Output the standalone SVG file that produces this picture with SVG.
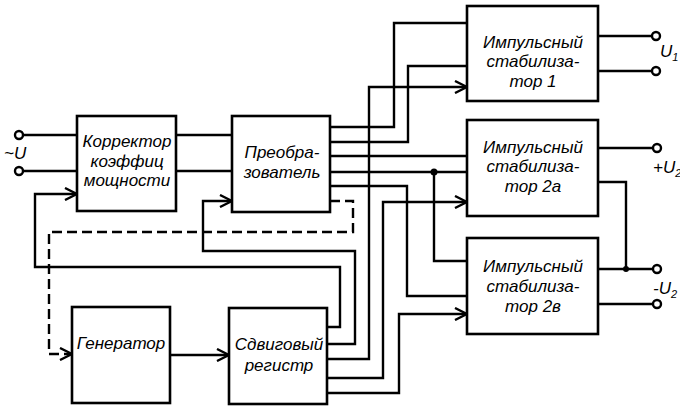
<svg xmlns="http://www.w3.org/2000/svg" width="680" height="407" viewBox="0 0 680 407">
<style>
.box{fill:#fff;stroke:#000;stroke-width:2.6}
.w{fill:none;stroke:#000;stroke-width:2.4;stroke-linejoin:miter}
.d{fill:none;stroke:#000;stroke-width:2.4;stroke-dasharray:10,5}
.t{font-family:"Liberation Sans",Arial,sans-serif;font-style:italic;font-size:17px;text-anchor:middle;fill:#000}
.l{font-family:"Liberation Sans",Arial,sans-serif;font-style:italic;font-size:17px;fill:#000}
.s{font-size:11px}
.term{fill:#fff;stroke:#000;stroke-width:2.4}
</style>
<defs>
<marker id="ah" viewBox="0 0 14 14" refX="13" refY="7" markerWidth="14" markerHeight="14" markerUnits="userSpaceOnUse" orient="auto">
<path d="M1,1 L13,7 L1,13" fill="none" stroke="#000" stroke-width="2.4"/>
</marker>
</defs>
<g id="connectors">
<path class="w" d="M19,135 H77 M19,171 H77"/>
<path class="w" d="M176,135 H232 M176,171 H232"/>
<path class="w" d="M330,127 H394 V23 H467"/>
<path class="w" d="M330,142 H408 V66 H467"/>
<path class="w" d="M330,156 H467"/>
<path class="w" d="M330,172 H467"/>
<path class="w" d="M434,172 V261 H467"/>
<path class="w" d="M330,186 H407 V296 H467"/>
<path class="w" d="M327,327 H340 V267 H35 V194 H77" marker-end="url(#ah)"/>
<path class="w" d="M327,344 H355 V251 H203 V201 H232" marker-end="url(#ah)"/>
<path class="w" d="M327,359 H369 V87 H467" marker-end="url(#ah)"/>
<path class="w" d="M327,378 H383 V202 H467" marker-end="url(#ah)"/>
<path class="w" d="M327,393 H399 V314 H467" marker-end="url(#ah)"/>
<path class="d" d="M330,201 H353 V232 H49 V354 H72" marker-end="url(#ah)"/>
<path class="w" d="M170,355 H229" marker-end="url(#ah)"/>
<path class="w" d="M598,36 H655 M598,71 H655"/>
<path class="w" d="M598,148 H656"/>
<path class="w" d="M598,182 H626 V269"/>
<path class="w" d="M598,269 H656 M598,304 H656"/>
<circle cx="434" cy="172" r="3.5" fill="#000"/>
<circle cx="626" cy="269" r="3" fill="#000"/>
<circle class="term" cx="19" cy="135" r="4"/>
<circle class="term" cx="19" cy="171" r="4"/>
<circle class="term" cx="656" cy="36" r="4"/>
<circle class="term" cx="656" cy="71" r="4"/>
<circle class="term" cx="657" cy="148" r="4"/>
<circle class="term" cx="657" cy="269" r="4"/>
<circle class="term" cx="657" cy="304" r="4"/>
<text class="l" x="4" y="159">~U</text>
<text class="l" x="660" y="57">U<tspan class="s" dy="4">1</tspan></text>
<text class="l" x="653" y="173">+U<tspan class="s" dy="4">2</tspan></text>
<text class="l" x="653" y="294">-U<tspan class="s" dy="4">2</tspan></text>
</g>
<g id="korrektor">
<rect class="box" x="77" y="116" width="99" height="95"/>
<text class="t" x="127" y="147">Корректор</text>
<text class="t" x="127" y="167">коэффиц</text>
<text class="t" x="127" y="186">мощности</text>
</g>
<g id="preobrazovatel">
<rect class="box" x="232" y="116" width="98" height="96"/>
<text class="t" x="282" y="158">Преобра-</text>
<text class="t" x="282" y="178">зователь</text>
</g>
<g id="stab1">
<rect class="box" x="467" y="6" width="131" height="95"/>
<text class="t" x="533" y="48">Импульсный</text>
<text class="t" x="533" y="67">стабилиза-</text>
<text class="t" x="533" y="87">тор 1</text>
</g>
<g id="stab2a">
<rect class="box" x="467" y="120" width="131" height="96"/>
<text class="t" x="533" y="153">Импульсный</text>
<text class="t" x="533" y="172">стабилиза-</text>
<text class="t" x="533" y="192">тор 2а</text>
</g>
<g id="stab2v">
<rect class="box" x="467" y="238" width="131" height="96"/>
<text class="t" x="533" y="272">Импульсный</text>
<text class="t" x="533" y="292">стабилиза-</text>
<text class="t" x="533" y="312">тор 2в</text>
</g>
<g id="generator">
<rect class="box" x="72" y="307" width="98" height="96"/>
<text class="t" x="121" y="349">Генератор</text>
</g>
<g id="register">
<rect class="box" x="229" y="308" width="98" height="96"/>
<text class="t" x="279" y="350">Сдвиговый</text>
<text class="t" x="279" y="371">регистр</text>
</g>
</svg>
